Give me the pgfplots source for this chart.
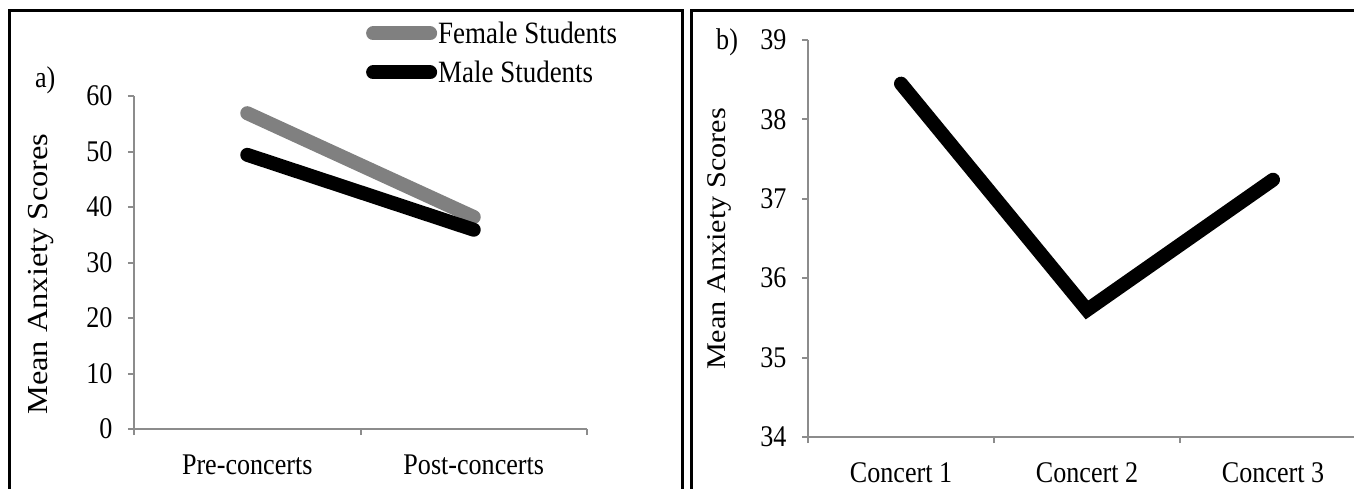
\documentclass[border=0pt]{standalone}
\usepackage{fontspec}
\setmainfont[FakeStretch=0.87]{Liberation Serif}
\newfontfamily\ylabfont[FakeStretch=1.12]{Liberation Serif}
\usepackage{pgfplots}
\pgfplotsset{compat=1.18}
\definecolor{axgray}{RGB}{140,140,140}
\definecolor{femgray}{RGB}{128,128,128}
\pgfplotsset{
 myax/.style={
  scale only axis,
  clip=false,
  axis x line=bottom, axis y line=left,
  axis line style={-, axgray, line width=2pt},
  every tick/.style={axgray, line width=2pt},
  tick align=outside,
  major tick length=6pt,
  /pgf/number format/assume math mode=true,
  tick label style={font=\fontsize{30}{34}\selectfont, black},
  yticklabel style={xshift=-12pt},
  xticklabel style={yshift=-22pt},
  enlargelimits=false,
  xticklabels={},
  extra x tick style={major tick length=0pt},
 },
 datln/.style={line width=14pt, line cap=round, line join=miter, mark=none},
}
\begin{document}
\begin{tikzpicture}
\useasboundingbox (0,0) rectangle (1354pt,488pt);
\draw[line width=3pt] (9pt,-10pt) -- (9pt,477pt) -- (682pt,477pt) -- (682pt,-10pt);
\draw[line width=3pt] (691pt,-10pt) -- (691pt,477pt) -- (1370pt,477pt);

\begin{axis}[myax,
  at={(134pt,59pt)}, anchor=south west,
  width=453pt, height=333pt,
  xmin=0, xmax=2, ymin=0, ymax=60,
  ytick={0,10,...,60},
  xtick={0,1,2},
  extra x ticks={0.5,1.5},
  extra x tick labels={Pre-concerts,Post-concerts},
  ylabel={Mean Anxiety Scores},
  ylabel style={at={(axis description cs:-0.205,0.465)}, anchor=center, font=\ylabfont\fontsize{29}{34}\selectfont},
  legend style={at={(axis description cs:0.512,1.226)}, anchor=north west, draw=none, fill=none,
     font=\fontsize{31}{34}\selectfont, inner sep=0pt, row sep=14pt,
     nodes={inner sep=1pt}},
  legend cell align=left,
  legend image code/.code={\draw[#1, line cap=round] (7pt,0pt) -- (64pt,0pt);},
]
\addplot[datln, color=femgray] coordinates {(0.5,56.9) (1.5,38.2)};
\addlegendentry{Female Students}
\addplot[datln, color=black] coordinates {(0.5,49.4) (1.5,35.9)};
\addlegendentry{Male Students}
\node[font=\fontsize{30}{34}\selectfont] at (axis description cs:-0.196,1.048) {a)};
\end{axis}

\begin{axis}[myax,
  at={(808pt,51pt)}, anchor=south west,
  width=558pt, height=397pt,
  xmin=0, xmax=3, ymin=34, ymax=39,
  ytick={34,35,...,39},
  xtick={0,1,2,3},
  extra x ticks={0.5,1.5,2.5},
  extra x tick labels={Concert 1,Concert 2,Concert 3},
  ylabel={Mean Anxiety Scores},
  ylabel style={at={(axis description cs:-0.159,0.499)}, anchor=center, font=\ylabfont\fontsize{27}{32}\selectfont},
]
\addplot[datln, color=black] coordinates {(0.5,38.45) (1.5,35.6) (2.5,37.24)};
\node[font=\fontsize{30}{34}\selectfont] at (axis description cs:-0.145,0.995) {b)};
\end{axis}
\end{tikzpicture}
\end{document}
